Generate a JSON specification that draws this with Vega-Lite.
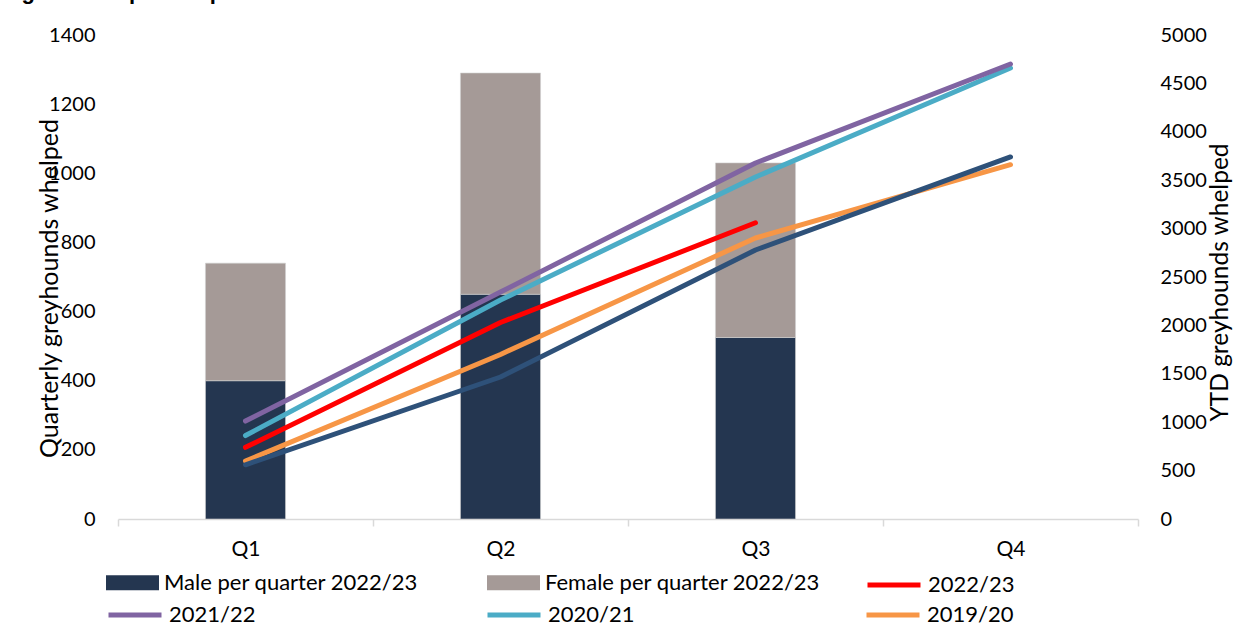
{
  "$schema": "https://vega.github.io/schema/vega-lite/v6.json",
  "width": 1020,
  "height": 484,
  "autosize": {"type": "none"},
  "padding": {"left": 118, "top": 35, "right": 110, "bottom": 109},
  "background": "white",
  "config": {
    "font": "Lato",
    "view": {"stroke": null},
    "axis": {"grid": false, "labelColor": "#000000", "titleColor": "#000000", "labelFontWeight": "normal", "titleFontWeight": "normal"},
    "legend": {"title": null, "labelFontSize": 22, "labelColor": "#000000", "labelOffset": 5, "labelLimit": 400, "symbolSize": 2809, "orient": "none", "direction": "horizontal", "gridAlign": "all"}
  },
  "title": {
    "text": "Figure 6: Pups whelped",
    "font": "Liberation Sans",
    "fontSize": 22,
    "fontWeight": "bold",
    "anchor": "start",
    "frame": "group",
    "baseline": "alphabetic",
    "dx": -116,
    "offset": 4,
    "color": "#000000"
  },
  "datasets": {
    "bars": [
      {"quarter": "Q1", "series": "Male per quarter 2022/23", "value": 400},
      {"quarter": "Q1", "series": "Female per quarter 2022/23", "value": 340},
      {"quarter": "Q2", "series": "Male per quarter 2022/23", "value": 650},
      {"quarter": "Q2", "series": "Female per quarter 2022/23", "value": 640},
      {"quarter": "Q3", "series": "Male per quarter 2022/23", "value": 525},
      {"quarter": "Q3", "series": "Female per quarter 2022/23", "value": 505}
    ],
    "lines": [
      {"quarter": "Q1", "series": "2019/20", "value": 599},
      {"quarter": "Q2", "series": "2019/20", "value": 1700},
      {"quarter": "Q3", "series": "2019/20", "value": 2903},
      {"quarter": "Q4", "series": "2019/20", "value": 3660},
      {"quarter": "Q1", "series": "2018/19", "value": 560},
      {"quarter": "Q2", "series": "2018/19", "value": 1467},
      {"quarter": "Q3", "series": "2018/19", "value": 2779},
      {"quarter": "Q4", "series": "2018/19", "value": 3740},
      {"quarter": "Q1", "series": "2020/21", "value": 862},
      {"quarter": "Q2", "series": "2020/21", "value": 2262},
      {"quarter": "Q3", "series": "2020/21", "value": 3533},
      {"quarter": "Q4", "series": "2020/21", "value": 4659},
      {"quarter": "Q1", "series": "2021/22", "value": 1012},
      {"quarter": "Q2", "series": "2021/22", "value": 2345},
      {"quarter": "Q3", "series": "2021/22", "value": 3678},
      {"quarter": "Q4", "series": "2021/22", "value": 4700}
    ],
    "current": [
      {"quarter": "Q1", "series": "2022/23", "value": 740},
      {"quarter": "Q2", "series": "2022/23", "value": 2030},
      {"quarter": "Q3", "series": "2022/23", "value": 3060}
    ]
  },
  "encoding": {
    "x": {
      "field": "quarter",
      "type": "nominal",
      "scale": {"domain": ["Q1", "Q2", "Q3", "Q4"], "paddingInner": 0, "paddingOuter": 0},
      "axis": {
        "title": null,
        "labelAngle": 0,
        "labelFontSize": 21,
        "labelPadding": 12,
        "domainColor": "#d9d9d9",
        "domainWidth": 1.5,
        "tickColor": "#d9d9d9",
        "tickWidth": 1.5,
        "tickSize": 7,
        "tickBand": "extent"
      }
    }
  },
  "layer": [
    {
      "data": {"name": "bars"},
      "mark": {"type": "bar", "width": {"band": 0.314}, "stroke": "#d0d0d0", "strokeWidth": 0.6},
      "encoding": {
        "y": {
          "field": "value",
          "type": "quantitative",
          "stack": "zero",
          "scale": {"domain": [0, 1400], "nice": false},
          "axis": {
            "title": "Quarterly greyhounds whelped",
            "titleFontSize": 25,
            "titleAngle": 270,
            "titleBaseline": "bottom",
            "titleX": -56,
            "titleY": 253,
            "values": [0, 200, 400, 600, 800, 1000, 1200, 1400],
            "format": "d",
            "labelFontSize": 20,
            "labelPadding": 23,
            "domain": false,
            "ticks": false
          }
        },
        "fill": {
          "field": "series",
          "type": "nominal",
          "scale": {"domain": ["Male per quarter 2022/23", "Female per quarter 2022/23"], "range": ["#243650", "#a59a97"]},
          "legend": {
            "legendX": -12,
            "legendY": 521,
            "columns": 2,
            "columnPadding": 47,
            "symbolType": "M-1,-0.28L1,-0.28L1,0.28L-1,0.28Z",
            "symbolStrokeWidth": 0
          }
        },
        "order": {"field": "series", "sort": "descending"}
      }
    },
    {
      "encoding": {
        "y": {
          "field": "value",
          "type": "quantitative",
          "scale": {"domain": [0, 5000], "nice": false},
          "axis": {
            "orient": "right",
            "title": "YTD greyhounds whelped",
            "titleFontSize": 24.5,
            "titleAngle": 270,
            "titleBaseline": "bottom",
            "titleX": 94,
            "titleY": 247,
            "values": [0, 500, 1000, 1500, 2000, 2500, 3000, 3500, 4000, 4500, 5000],
            "format": "d",
            "labelFontSize": 20,
            "labelPadding": 22,
            "domain": false,
            "ticks": false
          }
        }
      },
      "layer": [
        {
          "data": {"name": "lines"},
          "mark": {"type": "line", "strokeWidth": 5, "strokeCap": "round", "strokeJoin": "round"},
          "encoding": {
            "color": {
              "field": "series",
              "type": "nominal",
              "scale": {"domain": ["2021/22", "2020/21", "2019/20", "2018/19"], "range": ["#8064a2", "#4bacc6", "#f79646", "#2e5179"]},
              "legend": {
                "legendX": -12,
                "legendY": 551,
                "columns": 3,
                "columnPadding": 221,
                "symbolType": "stroke",
                "symbolStrokeWidth": 5,
                "values": ["2021/22", "2020/21", "2019/20"]
              }
            }
          }
        },
        {
          "data": {"name": "current"},
          "mark": {"type": "line", "strokeWidth": 5, "strokeCap": "round", "strokeJoin": "round"},
          "encoding": {
            "stroke": {
              "field": "series",
              "type": "nominal",
              "scale": {"domain": ["2022/23"], "range": ["#ff0000"]},
              "legend": {
                "legendX": 747,
                "legendY": 521,
                "symbolType": "stroke",
                "symbolStrokeWidth": 5
              }
            }
          }
        }
      ]
    }
  ],
  "resolve": {"scale": {"y": "independent"}}
}
